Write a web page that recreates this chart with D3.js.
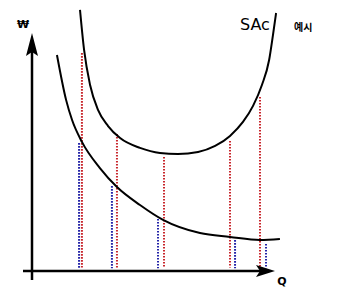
<!DOCTYPE html>
<html>
<head>
<meta charset="utf-8">
<script src="https://d3js.org/d3.v7.min.js"></script>
<style>
  body { margin: 0; background: #fff; }
  .curve { fill: none; stroke: #000; stroke-width: 2px; }
  .axis { stroke: #000; stroke-width: 2.5px; }
  .red { stroke: #c8262c; stroke-width: 2px; stroke-dasharray: 1.6,1.4; }
  .blue { stroke: #2424a8; stroke-width: 2px; stroke-dasharray: 1.6,1.4; }
  text { font-family: "DejaVu Sans", sans-serif; fill: #000; }
</style>
</head>
<body>
<script>
// U-shaped SAC curve (Q, W)
var sacQ = [20, 21.7, 24.2, 27.5, 31.7, 36.7, 45, 53.3, 60.8, 69.2, 76.3, 82.5, 87.9, 92.1, 95.8, 98.8, 100.4, 101.7];
var sacW = [108.8, 92.1, 77.5, 67.1, 60.4, 55.4, 51.3, 49.2, 48.8, 49.6, 52.1, 56.3, 62.1, 68.8, 77.5, 87.9, 98.3, 107.5];
// lower falling curve
var lowQ = [10.4, 14.2, 16.7, 20.8, 28.3, 35.4, 45, 54.6, 70, 82.5, 95, 103.3];
var lowW = [90, 71.3, 62.9, 53.8, 42.9, 35, 27.5, 21.3, 15.8, 14.2, 12.9, 13.3];
// red dotted drops to the SAC curve
var redQ = [20.8, 35.4, 55, 82.5, 95];
var redTop = [90.8, 57.1, 47.5, 54.2, 72.5];
// blue dotted drops to the lower curve
var blueQ = [19.6, 33.3, 52.5, 84.6, 97.5];
var blueTop = [53.3, 35.4, 21.7, 12.9, 11.3];
var dropBottom = 1.5;

var W = 358, H = 300;
var x = d3.scaleLinear().domain([0, 100]).range([32, 272]);
var y = d3.scaleLinear().domain([0, 100]).range([271, 31]);

var svg = d3.select("body").append("svg")
  .attr("width", W).attr("height", H);

// dotted guide lines
svg.selectAll(".red").data(redQ).enter().append("line")
  .attr("class", "red")
  .attr("x1", function(d) { return x(d); })
  .attr("x2", function(d) { return x(d); })
  .attr("y1", function(d, i) { return y(redTop[i]); })
  .attr("y2", y(dropBottom));

svg.selectAll(".blue").data(blueQ).enter().append("line")
  .attr("class", "blue")
  .attr("x1", function(d) { return x(d); })
  .attr("x2", function(d) { return x(d); })
  .attr("y1", function(d, i) { return y(blueTop[i]); })
  .attr("y2", y(dropBottom - 0.4));

// curves
var line = d3.line()
  .x(function(d) { return x(d[0]); })
  .y(function(d) { return y(d[1]); })
  .curve(d3.curveMonotoneX);

svg.append("path").attr("class", "curve")
  .attr("d", line(d3.zip(sacQ, sacW)));
svg.append("path").attr("class", "curve")
  .attr("d", line(d3.zip(lowQ, lowW)));

// axes with arrows
var x0 = x(0), y0 = y(0);
svg.append("line").attr("class", "axis")
  .attr("x1", x0).attr("x2", x0)
  .attr("y1", y0 + 9).attr("y2", 50);
svg.append("line").attr("class", "axis")
  .attr("x1", x0 - 9).attr("x2", 262)
  .attr("y1", y0).attr("y2", y0);

svg.append("path")
  .attr("d", "M" + x0 + ",33 L" + (x0 + 6) + ",56 L" + x0 + ",52 L" + (x0 - 6) + ",56 Z")
  .attr("fill", "#000");
svg.append("path")
  .attr("d", "M275," + y0 + " L256," + (y0 - 6) + " L260," + y0 + " L256," + (y0 + 6) + " Z")
  .attr("fill", "#000");

// labels
svg.append("text").attr("x", 23).attr("y", 28)
  .attr("text-anchor", "middle")
  .style("font-size", "11px").style("font-weight", "bold")
  .text("₩");
svg.append("text").attr("x", 282).attr("y", 285)
  .attr("text-anchor", "middle")
  .style("font-size", "11px").style("font-weight", "bold")
  .text("Q");
svg.append("text").attr("x", 240).attr("y", 30)
  .style("font-size", "16px")
  .text("SAc");
svg.append("text").attr("x", 294).attr("y", 31)
  .style("font-family", "'Noto Sans CJK KR', sans-serif")
  .style("font-size", "10px").style("font-weight", "bold")
  .text("예시");
</script>
</body>
</html>
